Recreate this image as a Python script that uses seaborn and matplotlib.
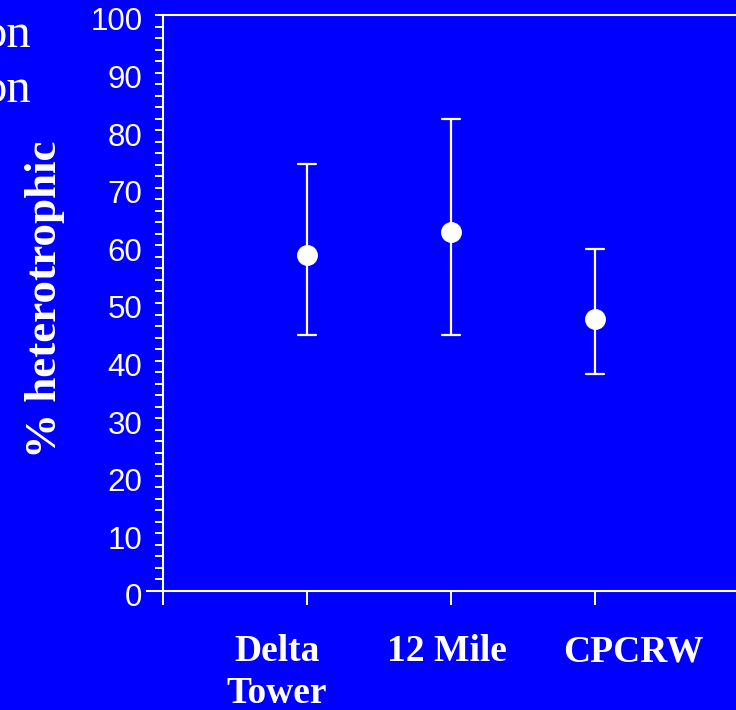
import matplotlib
matplotlib.use("Agg")
import matplotlib.pyplot as plt
import matplotlib.transforms as mtransforms
import seaborn as sns
import pandas as pd
from matplotlib.ticker import MultipleLocator

# Site summaries: lower bound, mean and upper bound of % heterotrophic
sites = ["Delta\nTower", "12 Mile", "CPCRW"]
low = [44.5, 44.5, 37.6]
mean = [58.3, 62.4, 47.2]
high = [74.1, 81.9, 59.3]

# Long table: the median of (low, mean, high) is the mean, the full range the bounds
rows = []
for s, lo, m, hi in zip(sites, low, mean, high):
    for v in (lo, m, hi):
        rows.append({"site": s, "pct": v})
df = pd.DataFrame(rows)

BLUE = "#0000FF"
sns.set_theme(style="ticks")
plt.rcParams.update({
    "figure.facecolor": BLUE,
    "axes.facecolor": BLUE,
    "axes.edgecolor": "white",
    "axes.linewidth": 1.5,
    "xtick.color": "white",
    "ytick.color": "white",
    "text.color": "white",
})

fig = plt.figure(figsize=(7.36, 7.10), dpi=100)
ax = fig.add_axes([163 / 736, 119 / 710, 576 / 736, 576 / 710])

sns.pointplot(
    data=df, x="site", y="pct", order=sites,
    estimator="median", errorbar=("pi", 100),
    color="white", markers="o", markersize=13, linestyle="none",
    capsize=0.13, err_kws={"linewidth": 1.6}, ax=ax,
)

ax.set_xlim(-1, 3)
ax.set_ylim(0, 100)
ax.set_xticks([-1, 0, 1, 2, 3])
ax.set_xticklabels([""] + sites + [""], fontfamily="Liberation Serif",
                   fontweight="bold", fontsize=27, linespacing=1.25)
ax.yaxis.set_major_locator(MultipleLocator(10))
ax.yaxis.set_minor_locator(MultipleLocator(2))

ax.tick_params(axis="x", direction="out", length=10, width=1.4, pad=21)
ax.tick_params(axis="y", which="both", direction="out", length=5.8, width=1.4, pad=9)
for lab in ax.get_yticklabels():
    lab.set_fontfamily("Liberation Sans")
    lab.set_fontsize(22.5)
    lab.set_transform(lab.get_transform() +
                      mtransforms.ScaledTranslation(0, -4 / 100, fig.dpi_scale_trans))

# Category names sit slightly off their ticks (pixel shifts per label)
shifts = [0, -30, -4, 38, 0]
for lab, dx in zip(ax.get_xticklabels(), shifts):
    lab.set_transform(lab.get_transform() +
                      mtransforms.ScaledTranslation(dx / 100, 0, fig.dpi_scale_trans))

for sp in ax.spines.values():
    sp.set_visible(True)
    sp.set_color("white")
    sp.set_linewidth(1.5)
ax.spines["bottom"].set_bounds(-1.111, 3)

ax.set_xlabel("")
ax.set_ylabel("% heterotrophic", fontfamily="Liberation Serif",
              fontweight="bold", fontsize=32.5, color="white")
ax.yaxis.set_label_coords(-0.17, 0.507)

# Fragments of neighbouring slide text at the left edge
fig.text(31 / 736, 1 - 47 / 710, "on", ha="right", va="baseline",
         fontfamily="Liberation Serif", fontsize=35, color="white")
fig.text(31 / 736, 1 - 102 / 710, "on", ha="right", va="baseline",
         fontfamily="Liberation Serif", fontsize=35, color="white")

fig.savefig("out.png", dpi=100, facecolor=BLUE)
